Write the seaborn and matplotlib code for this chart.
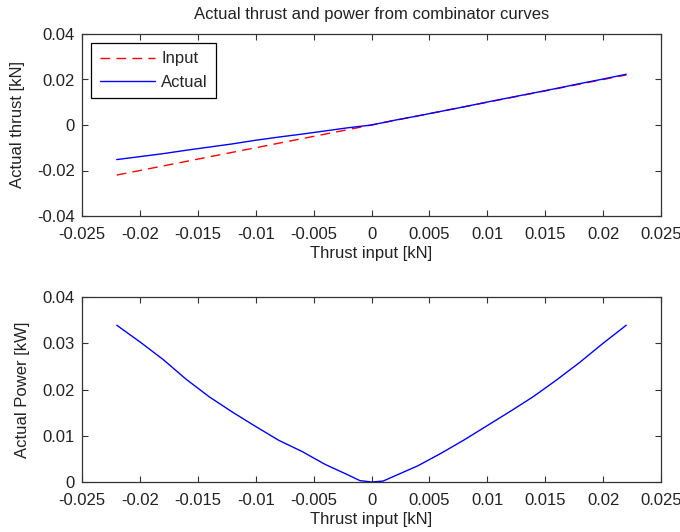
import matplotlib
matplotlib.use("Agg")
import matplotlib.pyplot as plt
import matplotlib.ticker as mticker
import seaborn as sns
import pandas as pd

# ---- data ----
thrust_input = [-0.022, -0.020, -0.018, -0.016, -0.014, -0.012, -0.010, -0.008, -0.006,
                -0.004, -0.002, 0.0, 0.002, 0.004, 0.006, 0.008, 0.010, 0.012, 0.014,
                0.016, 0.018, 0.020, 0.022]
input_thrust = [-0.022, -0.020, -0.018, -0.016, -0.014, -0.012, -0.010, -0.008, -0.006,
                -0.004, -0.002, 0.0, 0.002, 0.004, 0.006, 0.008, 0.010, 0.012, 0.014,
                0.016, 0.018, 0.020, 0.022]
actual_thrust = [-0.0152, -0.0139, -0.0126, -0.0111, -0.0097, -0.0083, -0.0067, -0.0053,
                 -0.0040, -0.0026, -0.0012, 0.0, 0.0021, 0.0040, 0.0060, 0.0080, 0.0101,
                 0.0121, 0.0141, 0.0161, 0.0182, 0.0202, 0.0223]

power_input = [-0.022, -0.020, -0.018, -0.016, -0.014, -0.012, -0.010, -0.008, -0.006,
               -0.004, -0.002, -0.001, 0.0, 0.001, 0.002, 0.003, 0.004, 0.006, 0.008,
               0.010, 0.012, 0.014, 0.016, 0.018, 0.020, 0.022]
actual_power = [0.0339, 0.0303, 0.0265, 0.0222, 0.0184, 0.0151, 0.0120, 0.0090, 0.0066,
                0.0038, 0.0015, 0.0003, 0.0, 0.0002, 0.0013, 0.0024, 0.0035, 0.0062, 0.0091,
                0.0122, 0.0153, 0.0185, 0.0221, 0.0259, 0.0300, 0.0339]

x_ticks = [-0.025, -0.02, -0.015, -0.01, -0.005, 0, 0.005, 0.01, 0.015, 0.02, 0.025]
thrust_ticks = [-0.04, -0.02, 0, 0.02, 0.04]
power_ticks = [0, 0.01, 0.02, 0.03, 0.04]

title = "Actual thrust and power from combinator curves"

# ---- style ----
sns.set_style("white")
plt.rcParams["font.family"] = ["Liberation Sans", "DejaVu Sans"]
plt.rcParams["axes.unicode_minus"] = False

FS = 12
fig = plt.figure(figsize=(6.8, 5.32), dpi=100)
ax1 = fig.add_axes([82 / 680, 1 - 216 / 532, (661 - 82) / 680, (216 - 34) / 532])
ax2 = fig.add_axes([82 / 680, 1 - 482 / 532, (661 - 82) / 680, (482 - 297) / 532])

df_t = pd.DataFrame({"x": thrust_input, "input": input_thrust, "actual": actual_thrust})
df_p = pd.DataFrame({"x": power_input, "power": actual_power})

sns.lineplot(data=df_t, x="x", y="input", ax=ax1, color="red", lw=1.0,
             linestyle=(0, (7, 4.5)), label="Input")
sns.lineplot(data=df_t, x="x", y="actual", ax=ax1, color="blue", lw=1.0, label="Actual")
sns.lineplot(data=df_p, x="x", y="power", ax=ax2, color="blue", lw=1.0)

fmt = mticker.FuncFormatter(lambda v, p: "%g" % round(v, 6))
for ax, yt in ((ax1, thrust_ticks), (ax2, power_ticks)):
    ax.set_xlim(-0.025, 0.025)
    ax.set_ylim(yt[0], yt[-1])
    ax.set_xticks(x_ticks)
    ax.set_yticks(yt)
    ax.xaxis.set_major_formatter(fmt)
    ax.yaxis.set_major_formatter(fmt)
    ax.tick_params(direction="in", length=4, width=0.8, color="#333333",
                   top=True, right=True, bottom=True, left=True, labelsize=FS,
                   labelcolor="#222222")
    ax.tick_params(axis="x", pad=8)
    ax.tick_params(axis="y", pad=5)
    for s in ax.spines.values():
        s.set_color("#333333")
        s.set_linewidth(0.9)
    ax.set_xlabel("Thrust input [kN]", fontsize=FS, color="#222222", labelpad=3)

ax1.set_ylabel("Actual thrust [kN]", fontsize=FS, color="#222222", labelpad=9)
ax2.set_ylabel("Actual Power [kW]", fontsize=FS, color="#222222", labelpad=9)
ax1.set_title(title, fontsize=FS, color="#222222", pad=11)

leg = ax1.legend(loc="upper left", fontsize=FS, frameon=True, fancybox=False,
                 edgecolor="black", framealpha=1, borderpad=0.5, handlelength=3.3,
                 handletextpad=0.4, labelspacing=0.5, borderaxespad=0.55)
leg.get_frame().set_linewidth(0.9)

fig.savefig("out.png", dpi=100)
